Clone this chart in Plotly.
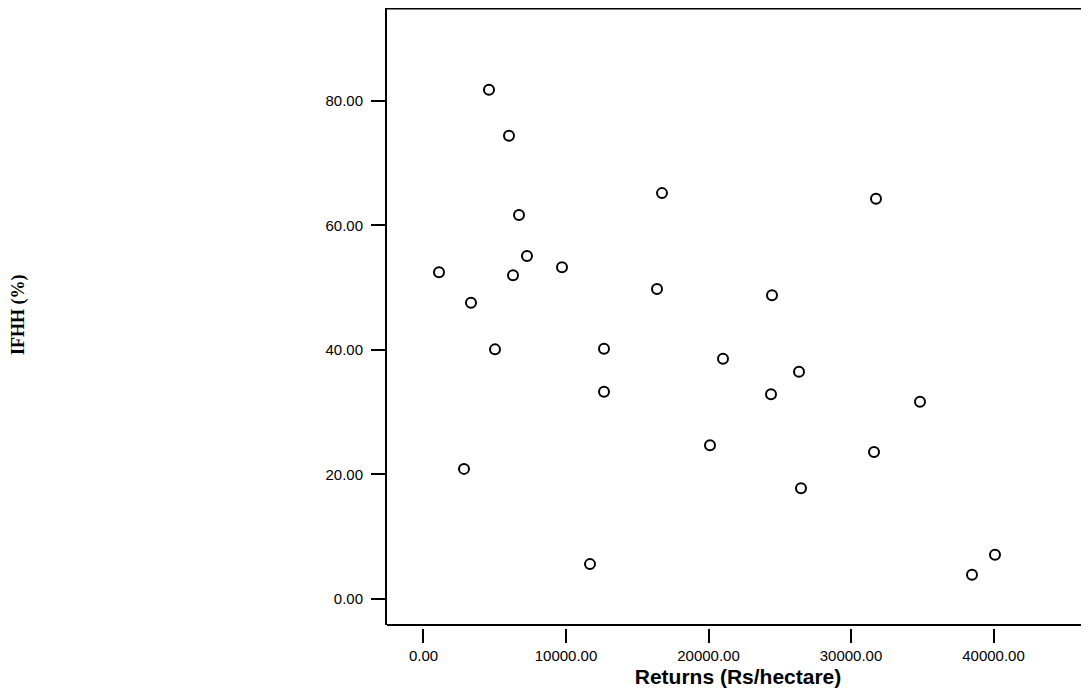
import plotly.graph_objects as go

returns = [4596, 6000, 16737, 31754, 6702, 7263, 9719, 1088, 6281, 3333,
           16386, 24456, 5018, 12667, 21018, 26351, 12667, 24386, 34842,
           20105, 31614, 2842, 26491, 11684, 40105, 38491]
ifhh = [81.8, 74.4, 65.2, 64.3, 61.7, 55.1, 53.3, 52.5, 52.0, 47.6,
        49.8, 48.8, 40.1, 40.2, 38.6, 36.5, 33.3, 32.9, 31.7,
        24.7, 23.6, 20.9, 17.8, 5.6, 7.1, 3.9]
x_ticks = [0, 10000, 20000, 30000, 40000]
y_ticks = [0, 20, 40, 60, 80]

# page has an 8px body offset
W, H = 1081, 686
mt, mb, ml, mr = 0, 66, 379, 0
plot_h = H - mt - mb
plot_w = W - ml - mr
d = 3 / plot_h

fig = go.Figure()
fig.add_trace(go.Scatter(
    x=returns, y=ifhh, mode="markers",
    marker=dict(symbol="circle-open", size=10, color="black",
                line=dict(width=2, color="black")),
    showlegend=False,
))

fig.update_layout(
    width=W, height=H,
    margin=dict(l=ml, r=mr, t=mt, b=mb, pad=0),
    paper_bgcolor="white", plot_bgcolor="white",
    font=dict(family="Arial, Liberation Sans, sans-serif", color="black", size=14),
    xaxis=dict(
        range=[-2561, 46702], anchor="free", position=0,
        tickvals=x_ticks, tickformat=".2f",
        ticks="outside", ticklen=14, tickwidth=2, tickcolor="black",
        showline=False, showgrid=False, zeroline=False,
        tickfont=dict(size=15, family="Arial, Liberation Sans, sans-serif"),
        title=dict(text="<b>Returns (Rs/hectare)</b>",
                   font=dict(size=21, family="Arial, Liberation Sans, sans-serif"),
                   standoff=6),
    ),
    yaxis=dict(
        range=[-4.18, 94.94], domain=[d, 1],
        tickvals=y_ticks, tickformat=".2f",
        ticks="outside", ticklen=14, tickwidth=2, tickcolor="black",
        ticklabelstandoff=5,
        showline=True, linewidth=2, linecolor="black",
        showgrid=False, zeroline=False,
        tickfont=dict(size=15, family="Arial, Liberation Sans, sans-serif"),
    ),
    shapes=[
        dict(type="line", xref="paper", yref="paper", x0=0, x1=1, y0=d, y1=d,
             line=dict(color="black", width=2)),
        dict(type="line", xref="paper", yref="paper", x0=0, x1=1, y0=1, y1=1,
             line=dict(color="black", width=3)),
    ],
    annotations=[
        dict(text="<b>IFHH (%)</b>", textangle=-90, xref="paper", yref="paper",
             x=(10 - ml) / plot_w, y=(H - mb - 307) / plot_h,
             showarrow=False, xanchor="center", yanchor="middle",
             font=dict(size=18, family="Times New Roman, Liberation Serif, serif",
                       color="black")),
    ],
)

fig.write_html("out.html")
